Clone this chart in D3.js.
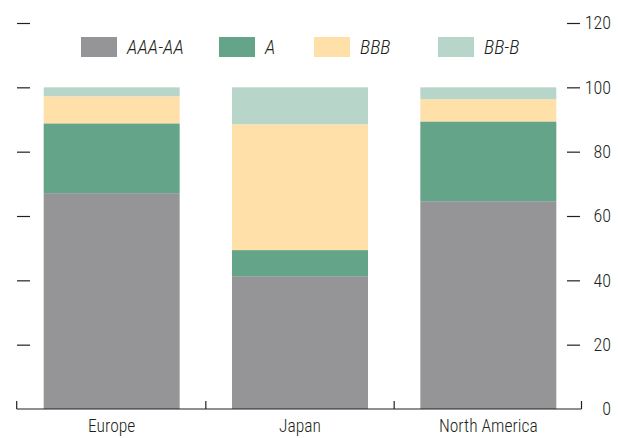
<!DOCTYPE html>
<html><head><meta charset="utf-8">
<script src="https://cdn.jsdelivr.net/npm/d3@7"></script>
<style>body{margin:0;background:#fff}svg{display:block}text{font-family:"Liberation Sans Narrow","Roboto Condensed","Arial Narrow","Liberation Sans",sans-serif;fill:#231f20;font-weight:300}</style>
</head><body><svg id="c" width="618" height="438"></svg>
<script>
const categories = ["Europe", "Japan", "North America"];
const seriesNames = ["AAA-AA", "A", "BBB", "BB-B"];
const aaaAA = [67.1, 41.3, 64.6];
const aRated = [21.7, 8.1, 24.8];
const bbb = [8.4, 39.1, 6.9];
const bbB = [2.8, 11.5, 3.7];
const tickValues = [0, 20, 40, 60, 80, 100, 120];
const colors = ["#959598", "#64a489", "#fee0a8", "#b8d5c9"];

const rows = categories.map((c, i) => ({cat: c, "AAA-AA": aaaAA[i], "A": aRated[i], "BBB": bbb[i], "BB-B": bbB[i]}));
const svg = d3.select("#c");
const x = d3.scaleBand().domain(categories).range([17.5, 582.5]).paddingInner(0.278).paddingOuter(0.139);
const y = d3.scaleLinear().domain([0, 120]).range([409, 23]);
const color = d3.scaleOrdinal().domain(seriesNames).range(colors);
const stack = d3.stack().keys(seriesNames)(rows);

svg.append("g").selectAll("g").data(stack).join("g").attr("fill", d => color(d.key))
  .selectAll("rect").data(d => d).join("rect")
  .attr("x", d => x(d.data.cat)).attr("width", x.bandwidth())
  .attr("y", d => y(d[1])).attr("height", d => y(d[0]) - y(d[1]));

// left ticks (no labels)
const leftAxis = d3.axisLeft(y).tickValues(tickValues.filter(v => v > 0)).tickSize(-13).tickFormat("");
const gl = svg.append("g").attr("transform", "translate(17,0)").call(leftAxis);
gl.select(".domain").remove();
gl.selectAll("line").attr("stroke", "#231f20").attr("stroke-width", 1.2);

// right ticks with labels
const rightAxis = d3.axisRight(y).tickValues(tickValues).tickSize(13).tickPadding(0).tickFormat(d3.format("d"));
const gr = svg.append("g").attr("transform", "translate(567,0)").call(rightAxis);
gr.select(".domain").remove();
gr.selectAll("line").attr("stroke", "#231f20").attr("stroke-width", 1.2);
gr.selectAll(".tick").filter(d => d === 0).select("line").remove();
gr.selectAll("text").attr("x", 44).attr("text-anchor", "end").style("font-size", "18px").attr("fill", "#231f20");

// bottom axis
const [r0, r1] = [16.7, 581.5];
const bounds = [r0].concat(categories.map(c => x(c) + x.bandwidth() + x.step() * x.paddingInner() / 2));
bounds[bounds.length - 1] = r1;
const gb = svg.append("g");
gb.append("line").attr("x1", r0).attr("x2", r1).attr("y1", 409).attr("y2", 409).attr("stroke", "#231f20").attr("stroke-width", 1.2);
gb.selectAll("line.t").data(bounds).join("line").attr("class", "t")
  .attr("x1", d => d).attr("x2", d => d).attr("y1", 409).attr("y2", 401).attr("stroke", "#231f20").attr("stroke-width", 1.2);
gb.selectAll("text").data(categories).join("text")
  .attr("x", d => x(d) + x.bandwidth() / 2).attr("y", 432).attr("text-anchor", "middle")
  .style("font-size", "17.5px").text(d => d);

// legend
const legX = [81, 219, 314, 438];
const lg = svg.append("g").selectAll("g").data(seriesNames).join("g")
  .attr("transform", (d, i) => `translate(${legX[i]},37)`);
lg.append("rect").attr("width", 36).attr("height", 20).attr("fill", d => color(d));
lg.append("text").attr("x", 46).attr("y", 17).style("font-size", "19.5px").style("font-style", "italic").text(d => d);
</script></body></html>
